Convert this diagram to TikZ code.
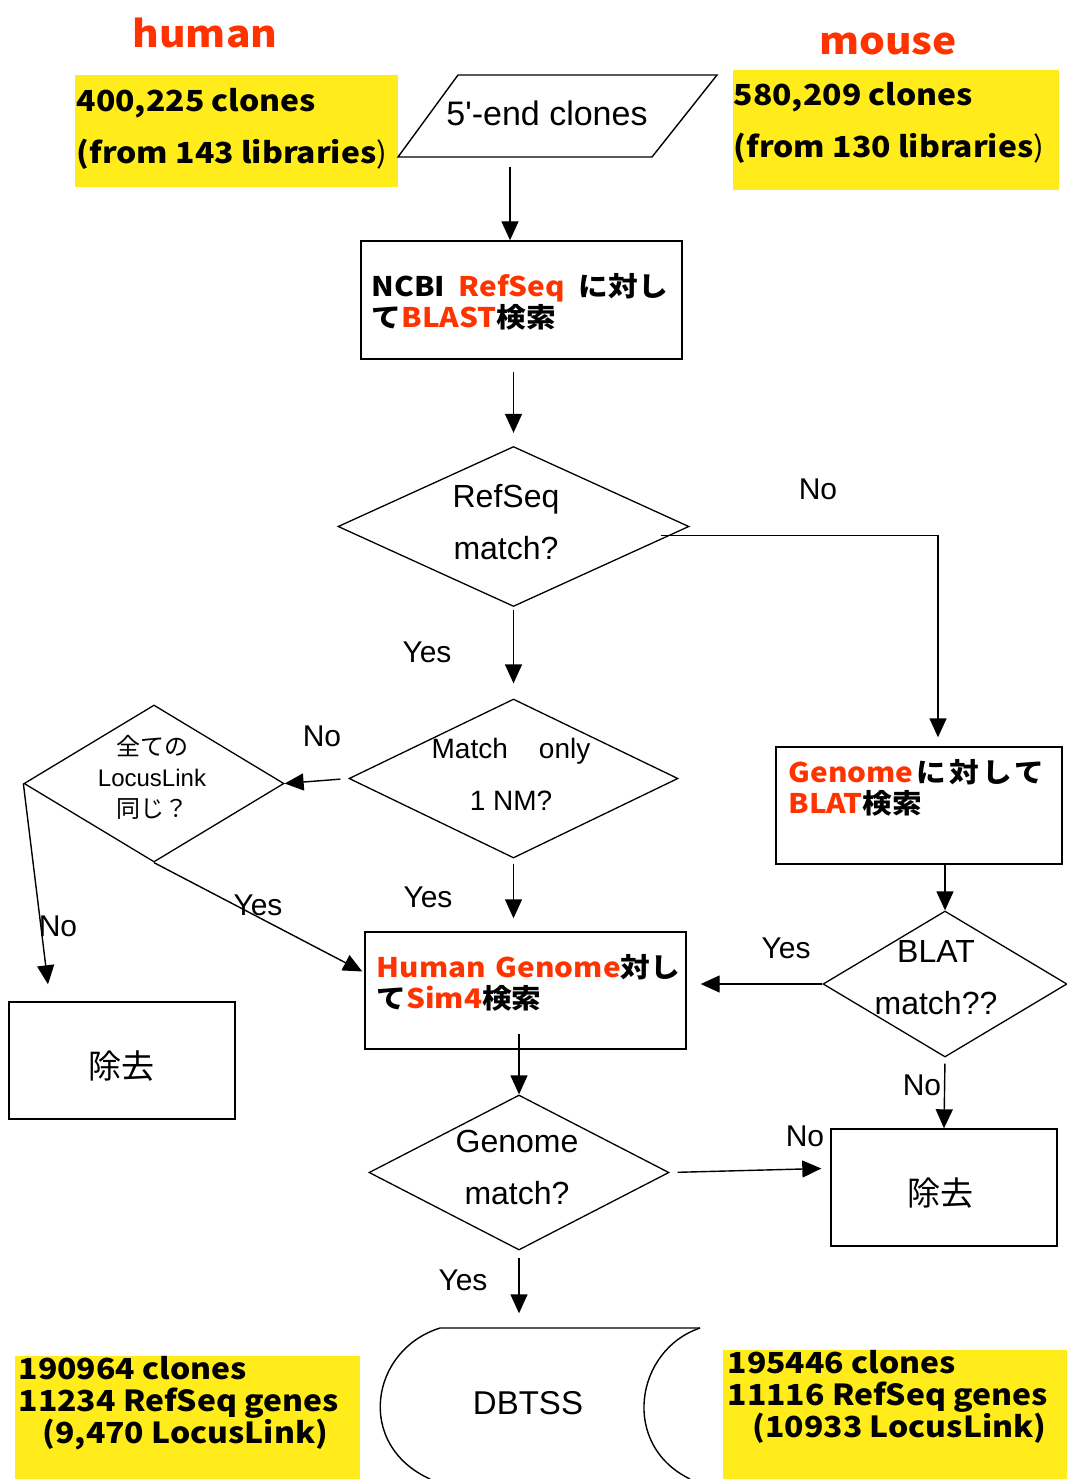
\documentclass[tikz,border=0pt]{standalone}
\usepackage{fontspec}
\setmainfont{Liberation Sans}
\newfontfamily\lsn{Liberation Sans}[Ligatures=TeXOff]
\newfontfamily\jp{Noto Sans CJK JP}
\newfontfamily\jpw{Noto Sans CJK JP}[FakeStretch=1.1]
\usetikzlibrary{arrows.meta,shapes.geometric,calc}
\definecolor{hl}{RGB}{255,236,26}
\definecolor{rd}{RGB}{255,51,0}
\begin{document}
\begin{tikzpicture}[x=1pt,y=-1pt,line width=1.4pt,
  arr/.style={-{Triangle[length=19pt,width=17pt]}},
  box/.style={draw,rectangle,inner sep=0pt},
  dia/.style={draw,diamond,inner sep=0pt,line width=1.3pt},
  bt/.style={font=\jpw\bfseries\fontsize{27}{31}\selectfont,inner sep=0pt,anchor=west,align=left},
  yt/.style={font=\jpw\bfseries\fontsize{29}{52}\selectfont,inner sep=0pt,anchor=west,align=left},
  ytb/.style={font=\jpw\bfseries\fontsize{29}{32}\selectfont,inner sep=0pt,anchor=west,align=left},
  lbl/.style={font=\fontsize{30}{36}\selectfont,inner sep=0pt},
  dt/.style={font=\fontsize{32}{52}\selectfont,inner sep=0pt,align=center},
  ybox/.style={fill=hl,inner sep=0pt,anchor=north west},
  rmbox/.style={box,minimum width=226pt,minimum height=117pt},
  rmt/.style={font=\jp\fontsize{33}{36}\selectfont,inner sep=0pt}
]
\useasboundingbox (0,0) rectangle (1067,1479);

% titles
\node[font=\jpw\bfseries\fontsize{37}{40}\selectfont,text=rd,inner sep=0pt] (human) at (205,33) {human};
\node[font=\jpw\bfseries\fontsize{37}{40}\selectfont,text=rd,inner sep=0pt] (mouse) at (888,44) {mouse};

% yellow boxes top
\node[ybox,minimum width=323pt,minimum height=112pt] (yh) at (74,74) {};
\node[yt] (yht) at (76,129) {400,225 clones\\(from 143 libraries{\mdseries)}};
\node[ybox,minimum width=326pt,minimum height=120pt] (ym) at (732,69) {};
\node[yt] (ymt) at (733,123) {580,209 clones\\(from 130 libraries{\mdseries)}};

% parallelogram
\coordinate (p1) at (458,75);
\coordinate (p2) at (717,75);
\coordinate (p3) at (652,157);
\coordinate (p4) at (398,157);
\coordinate (pb) at (510,157);
\draw (p1) -- (p2) -- (p3) -- (p4) -- cycle;
\node[font=\lsn\fontsize{34}{40}\selectfont,inner sep=0pt] (par) at (547,113) {5'-end clones};

% boxes
\node[box,minimum width=321pt,minimum height=118pt] (ncbi) at (521.5,300) {};
\node[bt] (ncbit) at (371,302) {NCBI\ \ {\color{rd}RefSeq}\ \ に対し\\て{\color{rd}BLAST}検索};

\node[box,minimum width=286pt,minimum height=117pt] (bx) at (919,805.5) {};
\node[bt] (bxt) at (788,788) {{\color{rd}Genome}\hspace{3pt}に\hspace{3pt}対\hspace{3pt}し\hspace{3pt}て\\{\color{rd}BLAT}検索};

\node[box,minimum width=321pt,minimum height=117pt] (hg) at (525.5,990.5) {};
\node[bt] (hgt) at (376,983) {{\color{rd}Human\hspace{10pt}Genome}対し\\て{\color{rd}Sim4}検索};

\node[rmbox] (rml) at (122,1060.5) {};
\node[rmt] (rmlt) at (121,1066) {除去};
\node[rmbox] (rmr) at (944,1187.5) {};
\node[rmt] (rmrt) at (940,1193) {除去};

% diamonds
\node[dia,minimum width=351pt,minimum height=160pt] (rs) at (513.5,526.5) {};
\node[dt] (rst) at (506,522) {RefSeq\\match?};
\node[dia,minimum width=329pt,minimum height=159pt] (mo) at (513.5,778.5) {};
\node[dt,font=\fontsize{28}{52}\selectfont] (mot) at (511,774) {Match\ \ \ \ only\\1 NM?};
\node[dia,minimum width=260pt,minimum height=157pt] (ll) at (154,783.5) {};
\node[dt,font=\fontsize{24}{31}\selectfont] (llt) at (152,777) {{\jp 全ての}\\LocusLink\\{\jp 同じ？}};
\node[dia,minimum width=244pt,minimum height=146pt] (bl) at (945,984) {};
\node[dt] (blt) at (936,977.5) {BLAT\\match??};
\node[dia,minimum width=300pt,minimum height=155pt] (gm) at (519,1172.5) {};
\node[dt] (gmt) at (517,1167) {Genome\\match?};

% DBTSS
\draw (700,1328) -- (440,1328) .. controls (370,1350) and (355,1445) .. (430,1479);
\draw (700,1328) .. controls (635,1350) and (620,1445) .. (690,1479);
\node[font=\fontsize{33}{36}\selectfont,inner sep=0pt,minimum height=150pt] (db) at (528,1403) {DBTSS};

% yellow boxes bottom
\node[ybox,minimum width=345pt,minimum height=124pt] (ybl) at (14,1355) {};
\node[ytb] (yblt) at (18,1403) {190964 clones\\11234 RefSeq genes\\\hspace*{24pt}(9,470 LocusLink)};
\node[ybox,minimum width=345pt,minimum height=130pt] (ybr) at (722,1349) {};
\node[ytb] (ybrt) at (727,1397) {195446 clones\\11116 RefSeq genes\\\hspace*{25pt}(10933 LocusLink)};

% connectors
\draw[arr,shorten <=10pt] (pb) -- (pb |- ncbi.north);
\draw[arr,shorten <=12pt,shorten >=13pt] (ncbi.south -| rs.north) -- (rs.north);
\draw[arr,shorten >=9pt] ([shift={(-29,9)}]rs.east) -| ([xshift=19pt]bx.north);
\draw[arr,shorten <=3pt,shorten >=15pt] (rs.south) -- (mo.north);
\draw[arr,shorten <=8pt] (mo.west) -- (ll.east);
\draw[arr] (ll.west) -- ([xshift=-74pt,yshift=17pt]rml.north);
\draw[arr] (ll.south) -- ([shift={(-2,-19)}]hg.west);
\draw[arr,shorten <=5pt,shorten >=13pt] (mo.south) -- (mo.south |- hg.north);
\draw[arr] (bl.north |- bx.south) -- (bl.north);
\draw[arr,shorten >=14pt] (bl.west) -- (bl.west -| hg.east);
\draw[arr,shorten <=6pt] (bl.south) -- (rmr.north);
\draw[arr,shorten <=-16pt] (gm.north |- hg.south) -- (gm.north);
\draw[arr,shorten <=8pt] (gm.east) -- ([shift={(-9,-19)}]rmr.west);
\draw[arr,shorten <=7pt,shorten >=14pt] (gm.south) -- (gm.south |- db.north);

% labels
\node[lbl] (l1) at (818,489) {No};
\node[lbl] (l2) at (427,652) {Yes};
\node[lbl] (l3) at (322,736) {No};
\node[lbl] (l4) at (58,926) {No};
\node[lbl] (l5) at (258,905) {Yes};
\node[lbl] (l6) at (428,897) {Yes};
\node[lbl] (l7) at (786,948) {Yes};
\node[lbl] (l8) at (922,1085) {No};
\node[lbl] (l9) at (805,1136) {No};
\node[lbl] (l10) at (463,1280) {Yes};
\end{tikzpicture}
\end{document}
